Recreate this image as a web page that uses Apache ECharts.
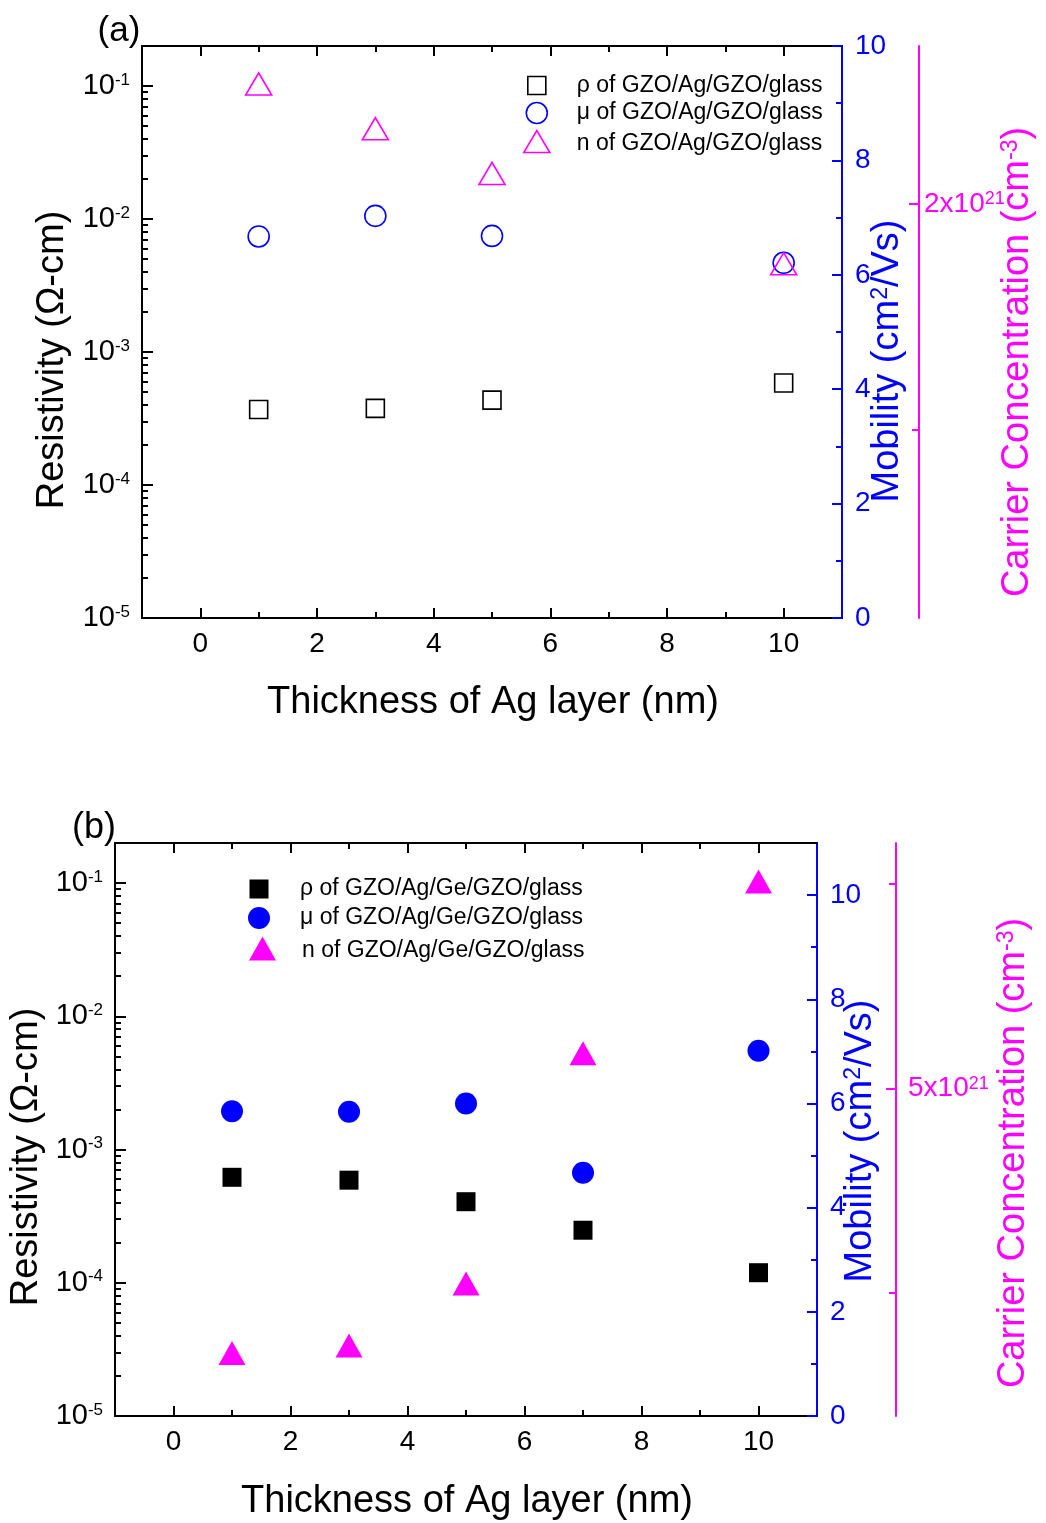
<!DOCTYPE html>
<html><head><meta charset="utf-8">
<script src="https://cdn.jsdelivr.net/npm/echarts@6/dist/echarts.min.js"></script>
<style>html,body{margin:0;padding:0;background:#fff}#c{width:1046px;height:1523px}</style>
</head><body><div id="c"></div>
<script>
const FONT = '"Liberation Sans", Arial, Helvetica, sans-serif';

// ---------- Panel (a): GZO/Ag/GZO/glass ----------
const thicknessA = [1, 3, 5, 10];
const rhoA = [3.70e-4, 3.77e-4, 4.35e-4, 5.85e-4];      // ohm-cm
const muA = [6.67, 7.03, 6.68, 6.21];                     // cm2/Vs
const nA = [2.266, 2.167, 2.068, 1.868];                  // x10^21 cm^-3

// ---------- Panel (b): GZO/Ag/Ge/GZO/glass ----------
const thicknessB = [1, 3, 5, 7, 10];
const rhoB = [6.19e-4, 5.89e-4, 4.06e-4, 2.48e-4, 1.19e-4];
const muB = [5.85, 5.84, 6.00, 4.67, 7.01];
const nB = [1.77, 1.86, 2.62, 5.43, 7.53];

const namesA = ['ρ of GZO/Ag/GZO/glass', 'μ of GZO/Ag/GZO/glass', 'n of GZO/Ag/GZO/glass'];
const namesB = ['ρ of GZO/Ag/Ge/GZO/glass', 'μ of GZO/Ag/Ge/GZO/glass', 'n of GZO/Ag/Ge/GZO/glass'];

// tick values
const xMajorTicks = [0, 2, 4, 6, 8, 10];
const xMinorTicks = [1, 3, 5, 7, 9];
const mobMajorTicks = [0, 2, 4, 6, 8, 10];
const mobMinorTicks = [1, 3, 5, 7, 9];
const nMajorTicksA = [2];
const nMinorTicksA = [1.5];
const nMajorTicksB = [5];
const nMinorTicksB = [2.5, 7.5];
const resMin = 1e-5, resMax = 0.2;

const logMinorTicks = [];
for (let e = -5; e <= -1; e++) {
  for (let k = 2; k <= 9; k++) {
    const v = e + Math.log10(k);
    if (v < Math.log10(resMax) - 1e-6) logMinorTicks.push(v);
  }
}

const BLUE = '#0000ff', MAG = '#ff00ff', BLACK = '#000000';

const panels = [
  { grid: { left: 142, top: 46, width: 700, height: 572 }, mobMax: 10,
    nMin: 1.084, nMax: 2.35, nMajor: nMajorTicksA, nMinor: nMinorTicksA, nOffset: 77, nMargin: 5,
    x: thicknessA, rho: rhoA, mu: muA, n: nA, names: namesA, open: true,
    sq: 18, ci: 21, tri: [26, 22] },
  { grid: { left: 115, top: 843, width: 702, height: 573 }, mobMax: 11,
    nMin: 1, nMax: 8, nMajor: nMajorTicksB, nMinor: nMinorTicksB, nOffset: 79, nMargin: 12,
    x: thicknessB, rho: rhoB, mu: muB, n: nB, names: namesB, open: false,
    sq: 19, ci: 22, tri: [27, 24] }
];

function tick(color, len, values) {
  return { show: true, inside: true, length: len, lineStyle: { color, width: 2 }, customValues: values };
}
function line(color, show) {
  return { show, onZero: false, lineStyle: { color, width: 2 } };
}

const grids = [], xAxes = [], yAxes = [], series = [];
panels.forEach((p, pi) => {
  grids.push(Object.assign({ containLabel: false, outerBoundsMode: 'none' }, p.grid));
  const xb = { type: 'value', gridIndex: pi, min: -1, max: 11, splitLine: { show: false } };
  xAxes.push(
    Object.assign({}, xb, { position: 'bottom', axisLine: line(BLACK, true),
      axisTick: tick(BLACK, 10, xMajorTicks),
      axisLabel: { show: true, customValues: xMajorTicks, margin: 12, fontSize: 28, color: BLACK, fontFamily: FONT } }),
    Object.assign({}, xb, { position: 'bottom', axisLine: line(BLACK, false), axisTick: tick(BLACK, 6, xMinorTicks), axisLabel: { show: false } }),
    Object.assign({}, xb, { position: 'top', axisLine: line(BLACK, true), axisTick: tick(BLACK, 10, xMajorTicks), axisLabel: { show: false } }),
    Object.assign({}, xb, { position: 'top', axisLine: line(BLACK, false), axisTick: tick(BLACK, 6, xMinorTicks), axisLabel: { show: false } })
  );
  yAxes.push(
    { type: 'log', logBase: 10, gridIndex: pi, position: 'left', min: resMin, max: resMax, splitLine: { show: false },
      axisLine: line(BLACK, true),
      axisTick: { show: true, inside: true, length: 11, lineStyle: { color: BLACK, width: 2 } },
      axisLabel: { show: true, margin: 12,
        formatter: v => { const e = Math.log10(v), r = Math.round(e); return Math.abs(e - r) < 1e-6 ? '{b|10}{s|' + r + '}' : ''; },
        rich: { b: { fontSize: 29, fontFamily: FONT, color: BLACK }, s: { fontSize: 17, fontFamily: FONT, color: BLACK, verticalAlign: 'top' } } } },
    { type: 'value', gridIndex: pi, position: 'left', min: -5, max: Math.log10(resMax), splitLine: { show: false },
      axisLine: line(BLACK, false), axisTick: tick(BLACK, 6, logMinorTicks), axisLabel: { show: false } },
    { type: 'value', gridIndex: pi, position: 'right', offset: 0, min: 0, max: p.mobMax, splitLine: { show: false },
      axisLine: line(BLUE, true), axisTick: tick(BLUE, 10, mobMajorTicks),
      axisLabel: { show: true, customValues: mobMajorTicks, margin: 13, fontSize: 28, color: BLUE, fontFamily: FONT } },
    { type: 'value', gridIndex: pi, position: 'right', offset: 0, min: 0, max: p.mobMax, splitLine: { show: false },
      axisLine: line(BLUE, false), axisTick: tick(BLUE, 6, mobMinorTicks), axisLabel: { show: false } },
    { type: 'value', gridIndex: pi, position: 'right', offset: p.nOffset, min: p.nMin, max: p.nMax, splitLine: { show: false },
      axisLine: line(MAG, true), axisTick: tick(MAG, 10, p.nMajor),
      axisLabel: { show: true, customValues: p.nMajor, margin: p.nMargin, formatter: v => '{b|' + v + 'x10}{s|21}',
        rich: { b: { fontSize: 28, fontFamily: FONT, color: MAG }, s: { fontSize: 18, fontFamily: FONT, color: MAG, verticalAlign: 'top' } } } },
    { type: 'value', gridIndex: pi, position: 'right', offset: p.nOffset, min: p.nMin, max: p.nMax, splitLine: { show: false },
      axisLine: line(MAG, false), axisTick: tick(MAG, 7, p.nMinor), axisLabel: { show: false } }
  );
  const xi = pi * 4, yi = pi * 6;
  const fillK = p.open ? 'rgba(0,0,0,0)' : BLACK;
  const fillB = p.open ? 'rgba(0,0,0,0)' : BLUE;
  const fillM = p.open ? 'rgba(0,0,0,0)' : MAG;
  const bw = p.open ? 1.6 : 0;
  series.push(
    { type: 'scatter', name: p.names[0], xAxisIndex: xi, yAxisIndex: yi, symbol: 'rect', symbolSize: p.sq,
      data: p.x.map((x, i) => [x, p.rho[i]]), itemStyle: { color: fillK, borderColor: BLACK, borderWidth: bw, opacity: 1 } },
    { type: 'scatter', name: p.names[1], xAxisIndex: xi, yAxisIndex: yi + 2, symbol: 'circle', symbolSize: p.ci,
      data: p.x.map((x, i) => [x, p.mu[i]]), itemStyle: { color: fillB, borderColor: BLUE, borderWidth: bw, opacity: 1 } },
    { type: 'scatter', name: p.names[2], xAxisIndex: xi, yAxisIndex: yi + 4, symbol: 'triangle', symbolSize: p.tri,
      data: p.x.map((x, i) => [x, p.n[i]]), itemStyle: { color: fillM, borderColor: MAG, borderWidth: bw, opacity: 1 } }
  );
});

function legendItem(name, icon, left, top, w, h, pad, padTop, style) {
  return { data: [{ name, icon }], left, top, orient: 'vertical', padding: 0, itemWidth: w, itemHeight: h,
    symbolKeepAspect: false, selectedMode: false, itemStyle: Object.assign({ opacity: 1 }, style),
    formatter: n => '{g| }{t|' + n + '}',
    textStyle: { rich: { g: { width: pad, fontSize: 10 }, t: { fontSize: 23, fontFamily: FONT, color: BLACK, lineHeight: 14, padding: [padTop, 0, 0, 0] } } } };
}
const openK = { color: 'rgba(0,0,0,0)', borderColor: BLACK, borderWidth: 1.6 };
const openB = { color: 'rgba(0,0,0,0)', borderColor: BLUE, borderWidth: 1.6 };
const openM = { color: 'rgba(0,0,0,0)', borderColor: MAG, borderWidth: 1.6 };
const legends = [
  legendItem(namesA[0], 'rect', 527, 74, 18, 18, 26, 0, openK),
  legendItem(namesA[1], 'circle', 525.5, 101.5, 21, 21, 24.5, 0, openB),
  legendItem(namesA[2], 'triangle', 523, 128, 26, 22, 22, 4, openM),
  legendItem(namesB[0], 'rect', 249.5, 877.5, 19, 19, 26.5, 0, { color: BLACK, borderWidth: 0 }),
  legendItem(namesB[1], 'circle', 248, 906.5, 22, 22, 25, 0, { color: BLUE, borderWidth: 0 }),
  legendItem(namesB[2], 'triangle', 249, 935, 27, 24, 21, 4, { color: MAG, borderWidth: 0 })
];

function gText(x, y, text, fill, size, rot) {
  return { type: 'text', x, y, rotation: rot ? Math.PI / 2 : 0, silent: true,
    style: { text, fill, fontSize: size, fontFamily: FONT, align: 'center', verticalAlign: 'middle' } };
}
function gRich(x, y, main1, sup, main2, fill, size, supSize) {
  return { type: 'text', x, y, rotation: Math.PI / 2, silent: true,
    style: { text: '{a|' + main1 + '}{s|' + sup + '}{a|' + main2 + '}', align: 'center', verticalAlign: 'middle',
      rich: { a: { fill, fontSize: size, fontFamily: FONT }, s: { fill, fontSize: supSize, fontFamily: FONT, verticalAlign: 'top' } } } };
}
const graphics = [
  gText(119, 31, '(a)', BLACK, 35, false),
  gText(94, 828, '(b)', BLACK, 36, false),
  gText(493, 703, 'Thickness of Ag layer (nm)', BLACK, 38, false),
  gText(467, 1502, 'Thickness of Ag layer (nm)', BLACK, 38, false),
  gText(53, 360, 'Resistivity (Ω-cm)', BLACK, 38, true),
  gText(27, 1157, 'Resistivity (Ω-cm)', BLACK, 38, true),
  gRich(888, 361, 'Mobility (cm', '2', '/Vs)', BLUE, 38, 23),
  gRich(861, 1141, 'Mobility (cm', '2', '/Vs)', BLUE, 38, 23),
  gRich(1018, 362, 'Carrier Concentration (cm', '-3', ')', MAG, 38, 23),
  gRich(1014, 1153, 'Carrier Concentration (cm', '-3', ')', MAG, 38, 23)
];

const chart = echarts.init(document.getElementById('c'), null, { renderer: 'canvas', width: 1046, height: 1523 });
chart.setOption({
  animation: false,
  backgroundColor: '#ffffff',
  textStyle: { fontFamily: FONT },
  grid: grids,
  xAxis: xAxes,
  yAxis: yAxes,
  legend: legends,
  series: series,
  graphic: graphics
});
</script>
</body></html>
